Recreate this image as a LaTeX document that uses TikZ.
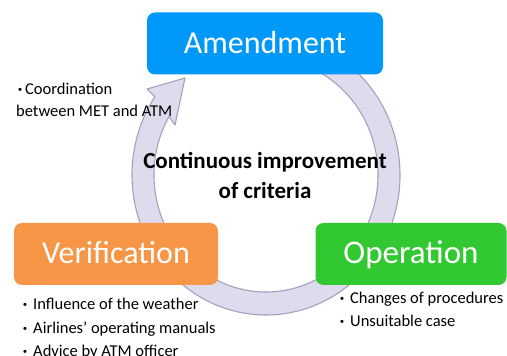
\documentclass[tikz,border=0pt]{standalone}
\usepackage{fontspec}
\setmainfont{Carlito}
\usetikzlibrary{calc}

\definecolor{amendblue}{RGB}{0,153,250}
\definecolor{verifyorange}{RGB}{247,150,70}
\definecolor{operategreen}{RGB}{50,200,50}
\definecolor{ringfill}{RGB}{222,219,236}
\definecolor{ringline}{RGB}{165,160,192}

\newcommand{\bul}[1][16pt]{\makebox[#1]{\textbf{·}}}

\begin{document}
\begin{tikzpicture}[x=1pt,y=1pt,
    stagebox/.style={rounded corners=8pt, minimum height=62pt, inner sep=0pt,
      text=white, font=\fontsize{32}{38}\selectfont, text height=20pt, text depth=0pt},
    listtext/.style={inner sep=0pt, anchor=base west, font=\fontsize{16.5}{22}\selectfont},
    ringarrow/.style={fill=ringfill, draw=ringline, line width=1.1pt, line join=round}]
  \useasboundingbox (0,0) rectangle (507,356);
  \clip (0,0) rectangle (507,356);

  % circular arrow
  \coordinate (c) at (266,181);
  \draw [ringarrow] ($(c)+(50:134 and 140)$)
    arc [start angle=50, end angle=-214, x radius=134, y radius=140]
    -- ($(c)+(-119,86)$) -- ($(c)+(-81,97)$) -- ($(c)+(-91,50)$)
    -- ($(c)+(150:112 and 117)$)
    arc [start angle=150, end angle=422, x radius=112, y radius=117]
    -- cycle;

  \node (amend) at (265,312.5) [stagebox, fill=amendblue, minimum width=236pt] { Amendment };
  \node (verif) at (116,102) [stagebox, fill=verifyorange, minimum width=204pt] { Verification };
  \node (oper) at (411,102) [stagebox, fill=operategreen, minimum width=191pt, font=\fontsize{33}{38}\selectfont] { Operation };

  \node (crit) at (265,180) [align=center, font=\bfseries\fontsize{23}{30}\selectfont] { Continuous improvement \\ of criteria };

  \node (coord1) at (15,261) [listtext] {\bul[10pt]Coordination};
  \node (coord2) at (16,239) [listtext] {between MET and ATM};

  \foreach \txt [count=\i] in {Influence of the weather, Airlines' operating manuals, Advice by ATM officer}
  {
    \node (verif\i) at (17,{46-(\i-1)*23.5}) [listtext] {\bul\txt};
  }
  \foreach \txt [count=\i] in {Changes of procedures, Unsuitable case}
  {
    \node (oper\i) at (334,{52-(\i-1)*23}) [listtext] {\bul\txt};
  }
\end{tikzpicture}
\end{document}
